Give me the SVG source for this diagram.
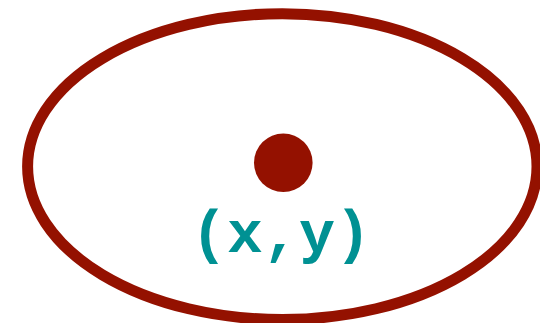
<svg xmlns="http://www.w3.org/2000/svg" width="540" height="323" viewBox="0 0 540 323">
  <style>
    .outline { fill: none; stroke: #941100; stroke-width: 11; }
    .dot { fill: #941100; }
    .label { font-family: "Liberation Mono", "DejaVu Sans Mono", monospace; font-weight: bold; font-size: 60px; fill: #009193; text-anchor: middle; }
  </style>
  <rect width="540" height="323" fill="#ffffff"/>
  <g id="region">
    <ellipse class="outline" cx="282.3" cy="166.6" rx="254.7" ry="152.9"/>
  </g>
  <g id="point">
    <circle class="dot" cx="283.3" cy="162.7" r="29.3"/>
    <text class="label" x="281" y="252">(x,y)</text>
  </g>
</svg>
